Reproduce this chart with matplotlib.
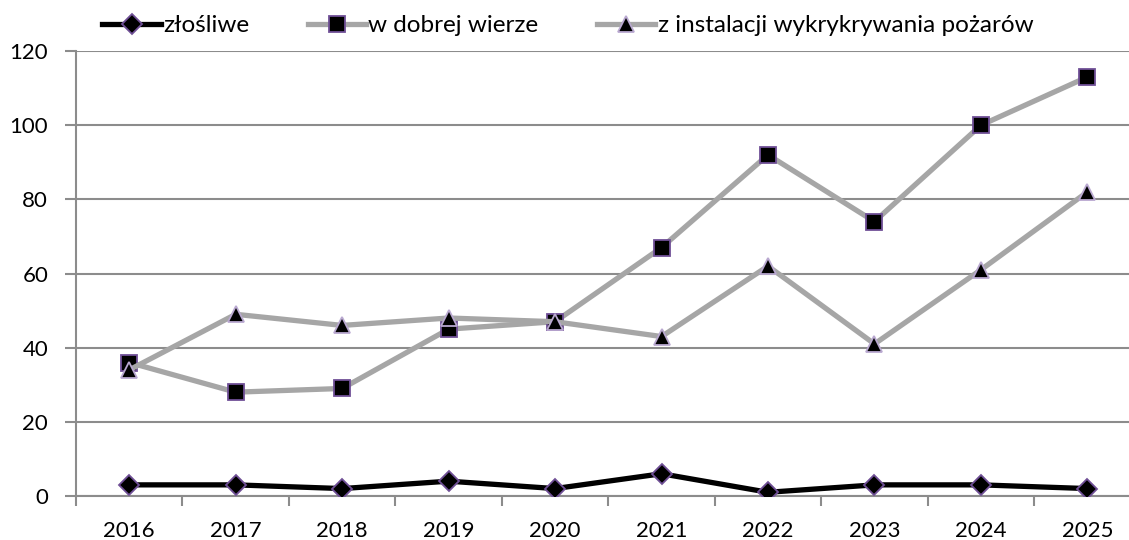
import matplotlib.pyplot as plt
import numpy as np

plt.rcParams['font.family'] = ['Lato', 'DejaVu Sans']

years = ['2016', '2017', '2018', '2019', '2020', '2021', '2022', '2023', '2024', '2025']
zlosliwe = [3, 3, 2, 4, 2, 6, 1, 3, 3, 2]
dobra_wiara = [36, 28, 29, 45, 47, 67, 92, 74, 100, 113]
pozary = [34, 49, 46, 48, 47, 43, 62, 41, 61, 82]

x = np.arange(len(years))
edge = '#6f4f96'
gray = '#a6a6a6'

fig = plt.figure(figsize=(11.29, 5.4), dpi=100)
ax = fig.add_axes([0.0673, 0.0815, 0.943, 0.824])

ax.plot(x, zlosliwe, color='black', lw=3.8, marker='D', ms=10,
        mfc='black', mec=edge, mew=1.3, label='złośliwe', zorder=3)
ax.plot(x, dobra_wiara, color=gray, lw=3.8, marker='s', ms=12,
        mfc='black', mec=edge, mew=1.3, label='w dobrej wierze', zorder=3)
ax.plot(x, pozary, color=gray, lw=3.8, marker='^', ms=11,
        mfc='black', mec='#b9a8d0', mew=1.3, label='z instalacji wykrykrywania pożarów', zorder=4)

ax.set_xlim(-0.5, 9.5)
ax.set_ylim(0, 120)
ax.set_yticks(range(0, 121, 20))
ax.yaxis.grid(True, color='#8c8c8c', lw=1.5)
ax.set_axisbelow(True)

ax.set_xticks(x)
ax.set_xticklabels(years)
ax.set_xticks(np.arange(-0.5, 9.6, 1), minor=True)
ax.tick_params(axis='x', which='major', length=0, pad=18, labelsize=16)
ax.tick_params(axis='x', which='minor', length=7, width=1.5, color='#8c8c8c')
ax.tick_params(axis='y', length=8, width=1.5, color='#8c8c8c', labelsize=16, pad=12)

for s in ['top', 'right']:
    ax.spines[s].set_visible(False)
for s in ['left', 'bottom']:
    ax.spines[s].set_color('#8c8c8c')
    ax.spines[s].set_linewidth(1.5)

fig.legend(loc='upper center', bbox_to_anchor=(0.503, 1.012), ncol=3, frameon=False,
           fontsize=17.5, handlelength=2.4, handletextpad=0.1, columnspacing=2.4)

fig.savefig('out.png', dpi=100)
